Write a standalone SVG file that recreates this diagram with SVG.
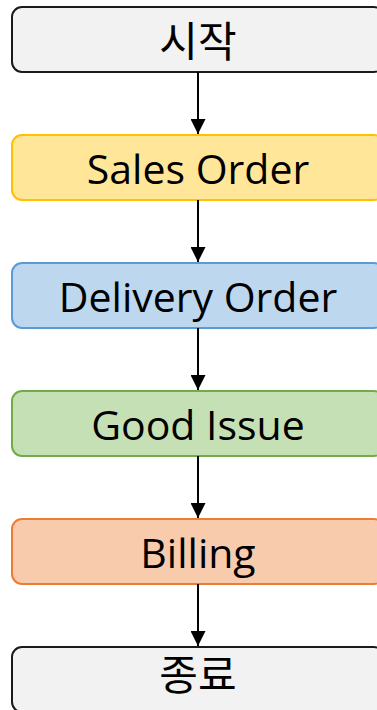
<svg xmlns="http://www.w3.org/2000/svg" width="377" height="710" viewBox="0 0 377 710">
<defs>
<style>
.box{stroke-width:2}
.lbl{font-family:"Open Sans","Noto Sans CJK KR",sans-serif;font-size:41px;fill:#000;text-anchor:middle}
.kr{font-family:"Noto Sans CJK KR","Open Sans",sans-serif;font-size:42px;fill:#000;text-anchor:middle}
.edge{stroke:#000;stroke-width:2;fill:none}
</style>
<marker id="arr" markerUnits="userSpaceOnUse" markerWidth="16" markerHeight="15" refX="16" refY="8" orient="auto" viewBox="0 0 16 16">
<path d="M0,0 L16,8 L0,16 Z" fill="#000"/>
</marker>
</defs>
<g id="n-start"><rect class="box" x="12" y="7" width="372" height="65" rx="10" fill="#f2f2f2" stroke="#1a1a1a"/><text class="kr" x="198" y="57">시작</text></g>
<g id="n-sales"><rect class="box" x="12" y="135" width="372" height="65" rx="10" fill="#ffe699" stroke="#ffc000"/><text class="lbl" x="198" y="184">Sales Order</text></g>
<g id="n-delivery"><rect class="box" x="12" y="263" width="372" height="65" rx="10" fill="#bdd7ee" stroke="#5b9bd5"/><text class="lbl" x="198" y="312">Delivery Order</text></g>
<g id="n-gi"><rect class="box" x="12" y="391" width="372" height="65" rx="10" fill="#c5e0b4" stroke="#70ad47"/><text class="lbl" x="198" y="440">Good Issue</text></g>
<g id="n-billing"><rect class="box" x="12" y="519" width="372" height="65" rx="10" fill="#f8cbad" stroke="#ed7d31"/><text class="lbl" x="198" y="568">Billing</text></g>
<g id="n-end"><rect class="box" x="12" y="647" width="372" height="65" rx="10" fill="#f2f2f2" stroke="#1a1a1a"/><text class="kr" x="198" y="690">종료</text></g>
<g id="edges">
<line class="edge" x1="198" y1="72" x2="198" y2="134" marker-end="url(#arr)"/>
<line class="edge" x1="198" y1="200" x2="198" y2="262" marker-end="url(#arr)"/>
<line class="edge" x1="198" y1="328" x2="198" y2="390" marker-end="url(#arr)"/>
<line class="edge" x1="198" y1="456" x2="198" y2="518" marker-end="url(#arr)"/>
<line class="edge" x1="198" y1="584" x2="198" y2="646" marker-end="url(#arr)"/>
</g>
</svg>
